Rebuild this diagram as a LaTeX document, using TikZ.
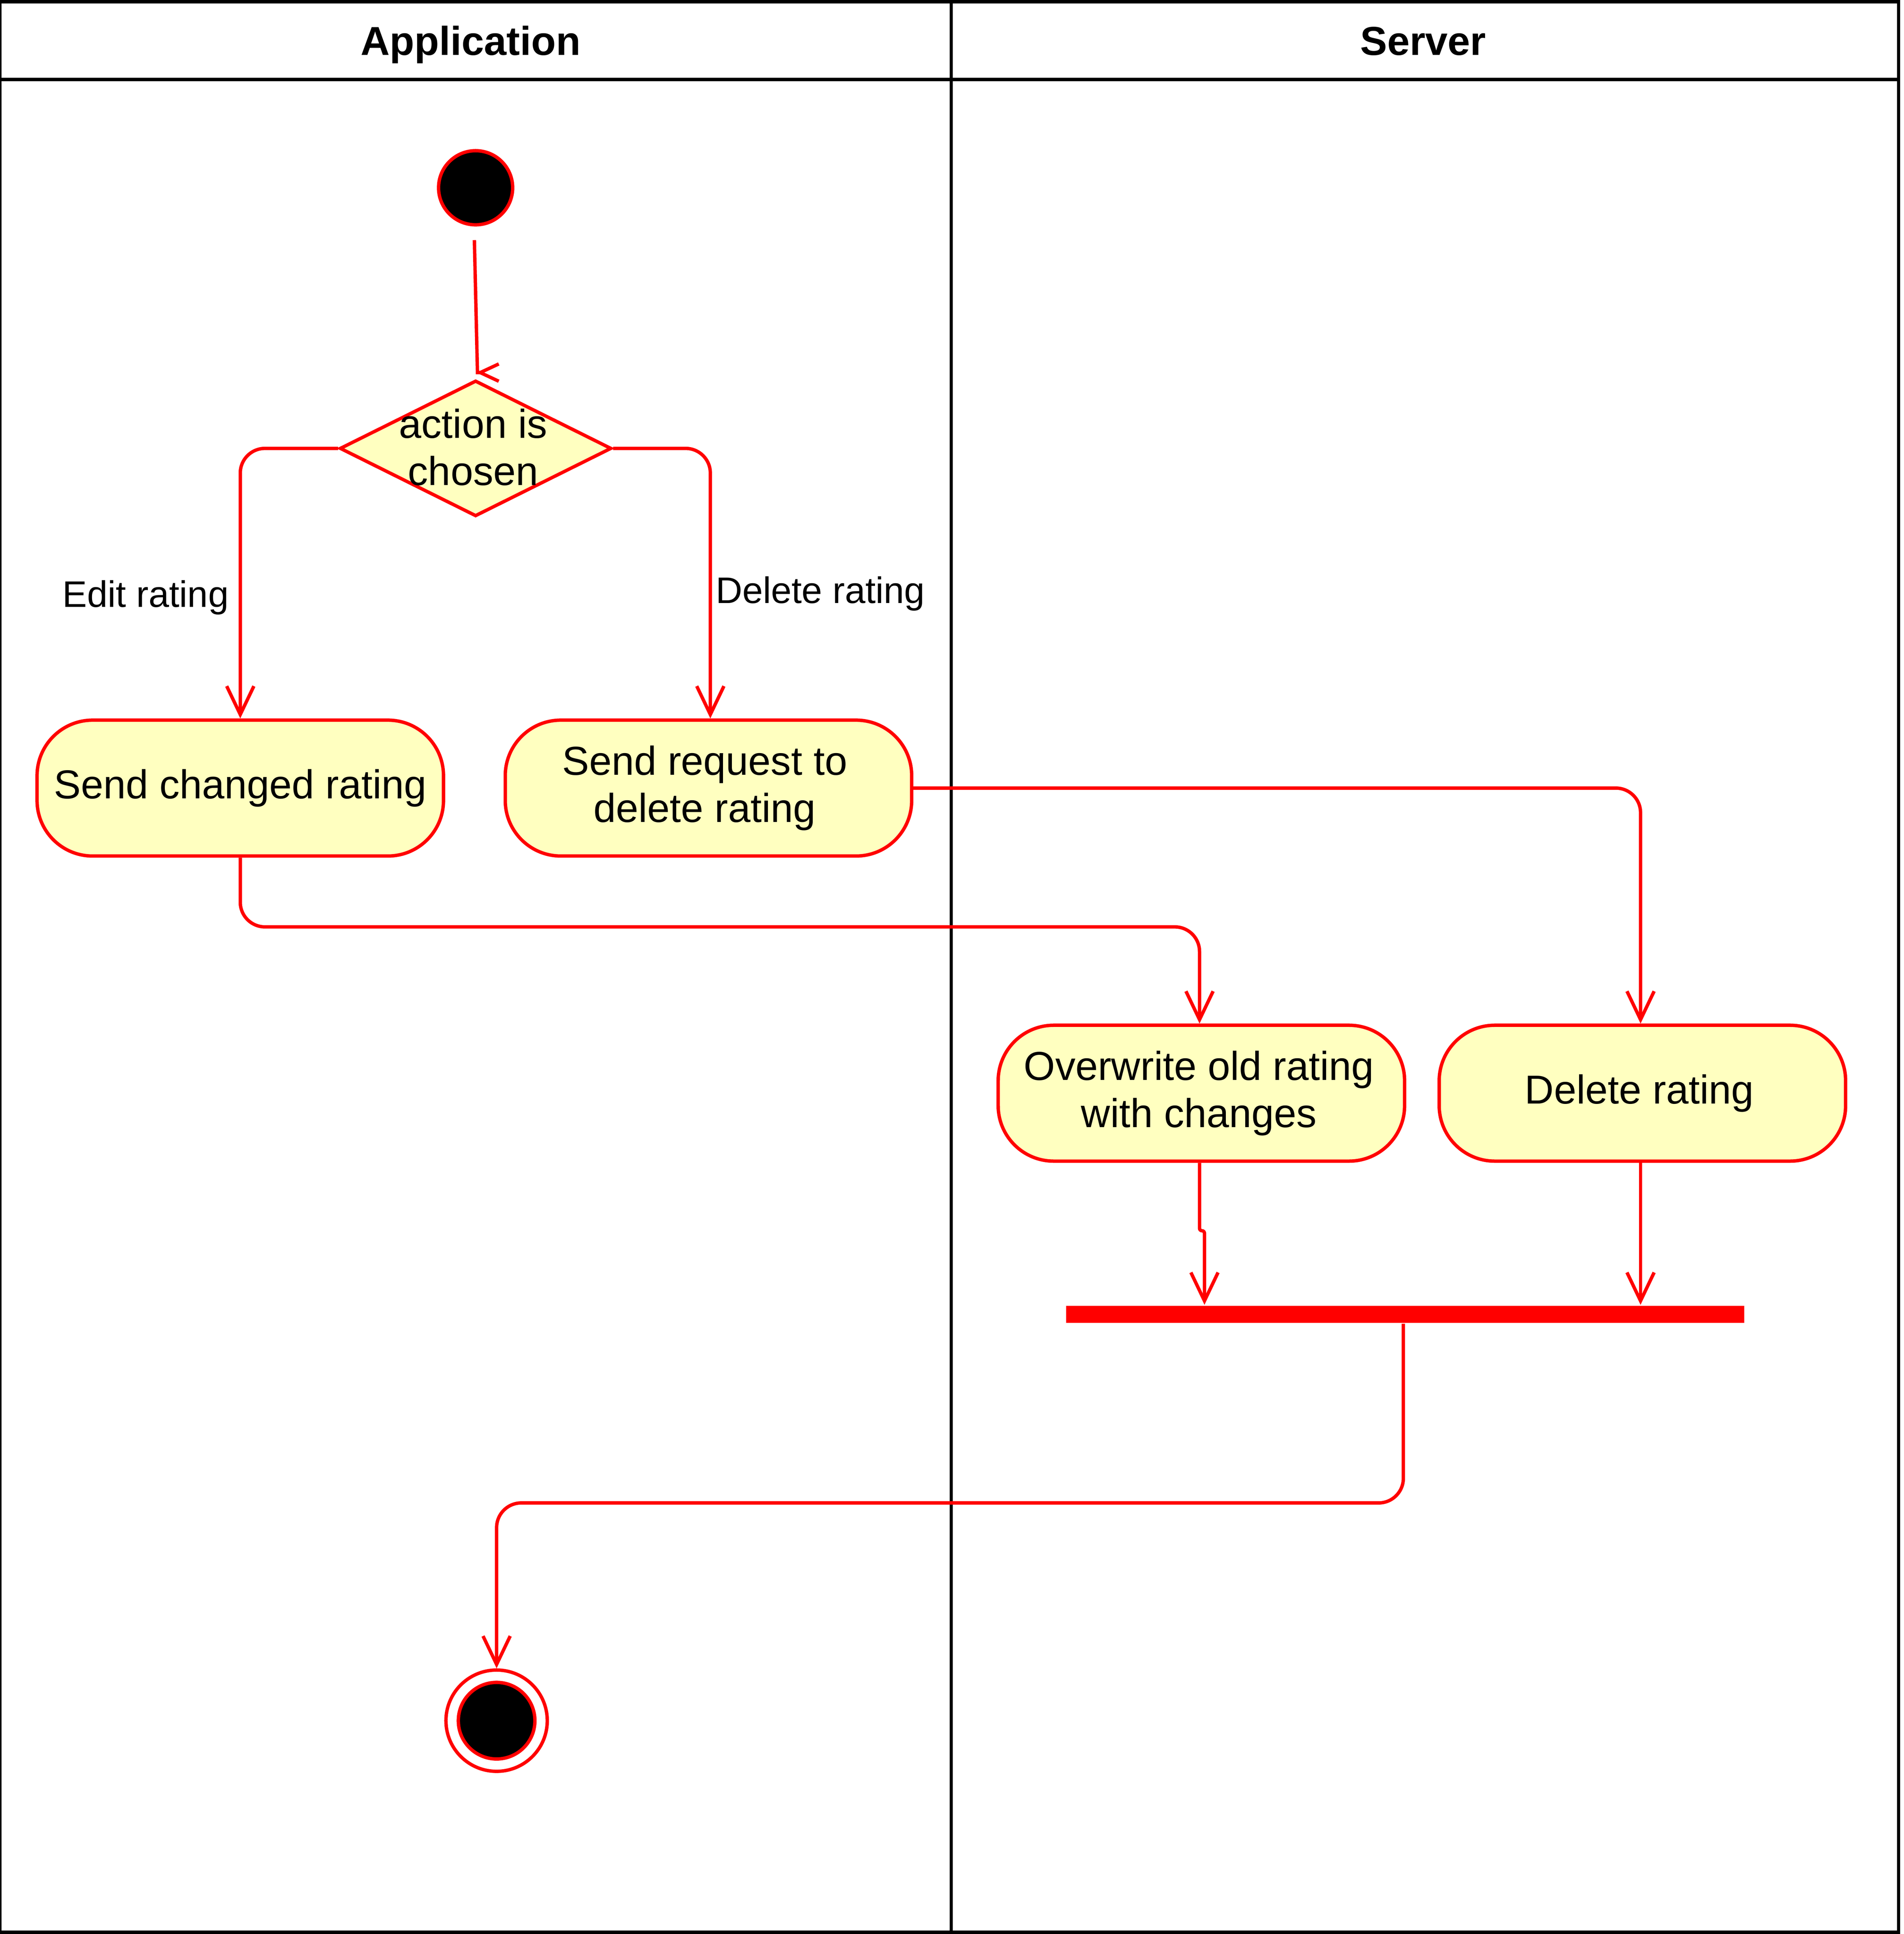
\documentclass[tikz,border=0pt]{standalone}
\usepackage{fontspec}
\setmainfont{Liberation Sans}
\usetikzlibrary{shapes.geometric,arrows.meta,calc}
\definecolor{actfill}{HTML}{FFFFC0}
\tikzset{
	lane/.style={line width=0.78pt,draw=black},
	flow/.style={line width=0.78pt,draw=red,rounded corners=0.2cm,-{Straight Barb[length=2.3mm,width=2.2mm]}},
	activity/.style={rectangle,rounded corners=0.45cm,draw=red,line width=0.78pt,fill=actfill,minimum width=3.29cm,minimum height=1.1cm,align=center,font=\fontsize{9.3}{10.9}\selectfont},
	guard/.style={font=\fontsize{8.5}{10}\selectfont,inner sep=0pt}
}
\begin{document}
\begin{tikzpicture}[y=-1cm]
				\useasboundingbox (0,0) rectangle (15.41,15.657);
				\draw [lane] (0,0.0137) rectangle (15.369,15.643);
				\draw [lane] (0,0.644) -- (15.369,0.644);
				\draw [lane] (7.70,0.0137) -- (7.70,15.643);
				\node (Application) [anchor=base] at (3.81,0.447) {\fontsize{9.3}{11}\selectfont\bfseries Application};
				\node (Server) [anchor=base] at (11.52,0.447) {\fontsize{9.3}{11}\selectfont\bfseries Server};

				\node (start) [circle,fill=black,draw=red,line width=0.78pt,minimum size=0.6cm,inner sep=0pt] at (3.85,1.52) {};
				\node (choice) [diamond,fill=actfill,draw=red,line width=0.78pt,minimum width=2.2cm,minimum height=1.1cm,inner sep=0pt] at (3.85,3.63) {};
				\node (choiceText) [align=center,font=\fontsize{9.3}{10.9}\selectfont,inner sep=0pt] at (3.83,3.62) {action is\\chosen};
				\begin{scope}[every node/.style={activity}]
					\node (sendEdit) at (1.945,6.38) {Send changed rating};
					\node (sendDelete) at (5.735,6.38) {Send request to\hspace*{0.06cm}\\delete rating\hspace*{0.06cm}};
					\node (overwrite) at (9.725,8.85) {Overwrite old rating\hspace*{0.04cm}\\with changes\hspace*{0.04cm}};
					\node (removeRating) at (13.295,8.85) {Delete rating\hspace*{0.05cm}};
				\end{scope}
				\node (joinBar) [rectangle,fill=red,minimum width=5.49cm,minimum height=0.14cm,inner sep=0pt] at (11.375,10.64) {};
				\node (final) [circle,fill=white,draw=red,line width=0.78pt,minimum size=0.82cm,inner sep=0pt] at (4.02,13.93) {};
				\node (finalDot) [circle,fill=black,draw=red,line width=0.78pt,minimum size=0.62cm,inner sep=0pt] at (final) {};

				\draw [flow,sharp corners,-{Straight Barb[length=1.5mm,width=1.4mm]}] ([xshift=-0.01cm,yshift=-0.11cm]start.south) -- ([xshift=0.015cm,yshift=0.05cm]choice.north) -- ([xshift=0.005cm,yshift=0.05cm]choice.north);
				\draw [flow] (choice.west) -| (sendEdit.north) node (editLabel) [guard,pos=0.776,left=0.08cm] {Edit rating};
				\draw [flow] (choice.east) -| ([xshift=0.015cm]sendDelete.north) node (deleteLabel) [guard,pos=0.769,right=0.03cm] {Delete rating};
				\draw [flow] (sendEdit.south) -- ++(0,0.56) -| ([xshift=-0.015cm]overwrite.north);
				\draw [flow] (sendDelete.east) -| ([xshift=-0.015cm]removeRating.north);
				\draw [flow,rounded corners=0.02cm] ([xshift=-0.015cm]overwrite.south) -- ++(0,0.55) -| ([xshift=0.025cm]overwrite.south |- joinBar.north);
				\draw [flow] ([xshift=-0.015cm]removeRating.south) -- ([xshift=-0.015cm]removeRating.south |- joinBar.north);
				\draw [flow] ([xshift=-0.015cm]joinBar.south) -- ++(0,1.45) -| (final.north);
			\end{tikzpicture}
\end{document}
